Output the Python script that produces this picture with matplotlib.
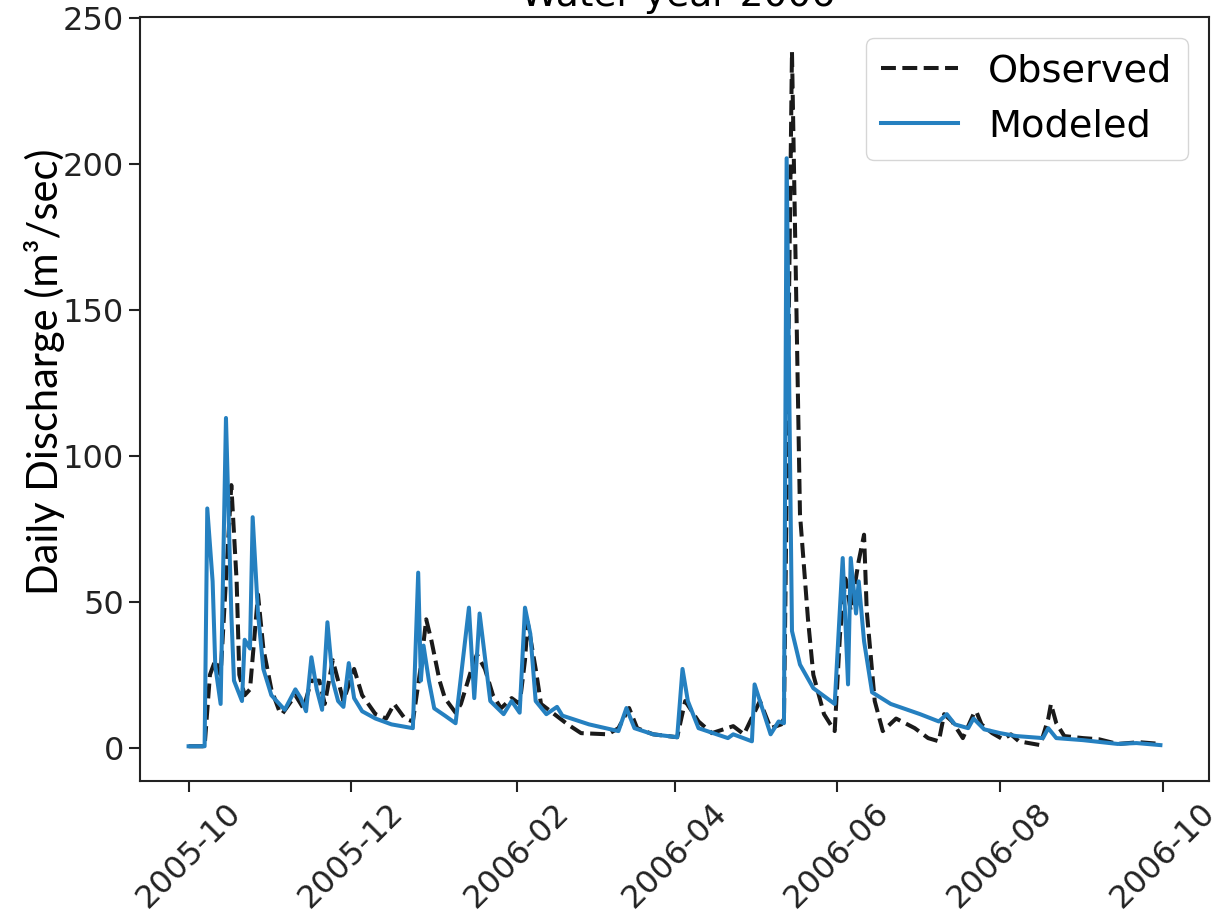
import numpy as np
import pandas as pd
import matplotlib
matplotlib.use("Agg")
import matplotlib.pyplot as plt
import matplotlib.dates as mdates

## Daily discharge, water year 2006 (day 0 = 2005-10-01), m3/sec

obs_day = [0, 6, 8, 10, 12, 16, 18, 19, 21, 23, 26, 28, 31, 34, 35, 40, 43, 46, 49, 51,
           54, 56, 58, 62, 65, 70, 74, 77, 81, 84, 87, 89, 91, 94, 96, 100, 102, 106, 108,
           111, 114, 117, 121, 124, 126, 127, 130, 132, 137, 142, 147, 157, 161, 165, 168,
           174, 183, 186, 191, 196, 204, 208, 214, 218, 222, 223, 226, 229, 232, 234, 238,
           242, 244, 246, 248, 251, 253, 254, 257, 260, 265, 272, 277, 281, 283, 286, 290,
           294, 295, 297, 301, 305, 308, 311, 319, 322, 323, 325, 328, 335, 341, 348, 356, 364]
obs_q = [0.5, 0.5, 25, 30, 25, 90, 57, 25, 18, 20, 52.5, 34, 20, 12.5, 11.5, 18, 13.5, 23, 23, 15,
         30, 23, 16, 27, 18, 11.5, 10, 15, 10, 9, 28, 44, 36.5, 23, 17, 12, 15, 27, 32,
         27, 18, 13.5, 17, 15, 30, 43, 27, 15, 11.5, 8, 5, 4.6, 6.7, 13.6, 6.7,
         4.6, 3.6, 16, 9, 5, 7.4, 4.6, 16, 6.7, 8, 10, 238.5, 80, 44, 25, 11.5,
         5.7, 39, 58, 47, 64, 73, 47, 16, 5.7, 10, 6.7, 3.3, 2.2, 11.5, 9, 3.3,
         11.5, 12.5, 8, 5, 2.9, 4.6, 2.2, 0.9, 10, 15, 8.4, 4, 3.3, 2.9, 1.3, 1.9, 1.3]

mod_day = [0, 6, 7, 9, 10, 12, 14, 16, 17, 20, 21, 23, 24, 26, 28, 31, 36, 40, 42, 44,
           46, 48, 50, 52, 54, 56, 58, 60, 62, 65, 70, 76, 84, 86, 87, 88, 90, 92, 96, 100,
           105, 107, 109, 113, 118, 121, 124, 126, 128, 130, 134, 138, 140, 150, 161, 164,
           167, 174, 183, 185, 187, 191, 202, 204, 211, 212, 214, 218, 221, 223, 224, 226,
           229, 234, 242, 245, 247, 248, 250, 251, 253, 256, 263, 274, 281, 284, 287, 292,
           294, 298, 304, 310, 320, 322, 325, 335, 348, 355, 364]
mod_q = [0.5, 0.5, 82, 57, 28, 15, 113, 46, 23, 16, 37, 34, 79, 46, 27, 18, 13, 20, 17, 12.5,
         31, 20, 13, 43, 23, 16, 14, 29, 17, 12.5, 10, 8, 6.7, 60, 23, 35, 23, 13.5, 11, 8.4,
         48, 17, 46, 16, 11.5, 16, 12, 48, 39, 16, 11.5, 14, 11, 8, 5.7, 13.6,
         6.7, 4.6, 3.6, 27, 16, 6.7, 3.3, 4.6, 2.2, 21.7, 16, 4.6, 9, 8.4, 202, 40,
         28.5, 20.4, 15, 65, 21.7, 65, 46, 57, 36.5, 19, 15, 11.5, 9, 11.5, 8, 6.7,
         10, 6.3, 5, 4, 3.3, 6.7, 3.3, 2.6, 1.3, 1.6, 0.9]

start = pd.Timestamp("2005-10-01")
obs_dates = start + pd.to_timedelta(obs_day, unit="D")
mod_dates = start + pd.to_timedelta(mod_day, unit="D")

## Plot

fig = plt.figure(figsize=(12.16, 9.16), dpi=100)
ax = fig.add_axes([140 / 1216, 1 - 781 / 916, 1069 / 1216, 764 / 916])

ax.plot(obs_dates, obs_q, "--", color="#1a1a1a", lw=2.9, label="Observed")
ax.plot(mod_dates, mod_q, "-", color="#2580c0", lw=2.9, label="Modeled")

ax.xaxis.set_major_locator(mdates.MonthLocator(bymonth=[2, 4, 6, 8, 10, 12]))
ax.xaxis.set_major_formatter(mdates.DateFormatter("%Y-%m"))
ax.set_yticks([0, 50, 100, 150, 200, 250])
ax.tick_params(labelsize=23, length=8, width=1.5, colors="#222222")
plt.setp(ax.get_xticklabels(), rotation=45)
for s in ax.spines.values():
    s.set_linewidth(1.5)
    s.set_color("#222222")

ax.legend(loc="upper right", fontsize=27.5, handlelength=2.0, borderaxespad=0.55)

fig.text(678 / 1216, 1 - 6 / 916, "Water year 2006", fontsize=27, ha="center", va="baseline")
fig.text(45 / 1216, 1 - 372 / 916, "Daily Discharge (m\u00b3/sec)", family="Lato",
         fontsize=30, rotation=90, ha="center", va="center")

fig.savefig("out.png", dpi=100)
